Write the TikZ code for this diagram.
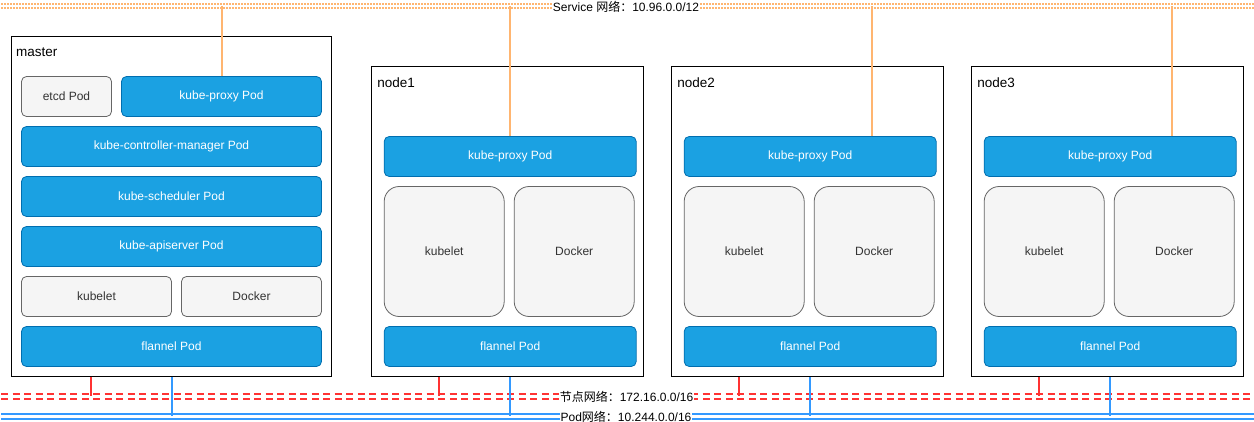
\documentclass[tikz,border=0pt]{standalone}
\usepackage{fontspec}
\setmainfont{Liberation Sans}
\newfontfamily\cjk{Noto Sans CJK SC}
\usepackage{tikz}
\usetikzlibrary{positioning}
\definecolor{podfill}{HTML}{1BA1E2}
\definecolor{poddraw}{HTML}{006EAF}
\definecolor{procfill}{HTML}{F5F5F5}
\definecolor{procdraw}{HTML}{666666}
\definecolor{proctext}{HTML}{333333}
\definecolor{svcorange}{HTML}{FFB570}
\definecolor{nodered}{HTML}{FF3333}
\definecolor{podnetblue}{HTML}{3399FF}
\tikzset{
  host/.style={draw=black,line width=1pt,fill=white,anchor=north west,inner sep=0,outer sep=0},
  host label/.style={anchor=west,inner sep=0,font=\fontsize{13.5pt}{16pt}\selectfont},
  pod/.style={draw=poddraw,fill=podfill,text=white,rounded corners=5pt,minimum height=40pt,
    inner sep=0,outer sep=0,line width=0.8pt,font=\fontsize{12pt}{14pt}\selectfont},
  proc/.style={draw=procdraw,fill=procfill,text=proctext,rounded corners=5pt,minimum height=40pt,
    inner sep=0,outer sep=0,line width=0.8pt,font=\fontsize{12pt}{14pt}\selectfont},
  proc big/.style={proc,rounded corners=15pt,minimum width=120pt,minimum height=130pt},
  svc link/.style={svcorange,line width=1.6pt,double=white,double distance=2.9pt,dash pattern=on 2pt off 1pt},
  node link/.style={nodered,line width=1.9pt,double=white,double distance=3.1pt,dash pattern=on 7pt off 4.5pt},
  pod link/.style={podnetblue,line width=1.9pt,double=white,double distance=3.1pt},
  svc drop/.style={svcorange,line width=2pt},
  node drop/.style={nodered,line width=2pt},
  pod drop/.style={podnetblue,line width=2pt},
  net label/.style={fill=white,inner xsep=1pt,inner ysep=1pt,font=\fontsize{12pt}{14pt}\selectfont}
}

\begin{document}
\begin{tikzpicture}[x=1pt,y=-1pt]
  \useasboundingbox (0,0) rectangle (1254,422);

  % master
  \node[host,minimum width=320pt,minimum height=340pt] (master) at (11.5,36.5) {};
  \node[host label] (master-lbl) at ([shift={(4.5,16)}]master.north west) {master};

  \node[proc,minimum width=90pt,anchor=north west] (m-etcd) at ([shift={(10,40)}]master.north west) {etcd Pod};
  \node[pod,minimum width=200pt,right=10pt of m-etcd] (m-proxy) {kube-proxy Pod};
  \node[pod,minimum width=300pt,below=10pt of m-etcd.south west,anchor=north west] (m-cm) {kube-controller-manager Pod};
  \node[pod,minimum width=300pt,below=10pt of m-cm] (m-sched) {kube-scheduler Pod};
  \node[pod,minimum width=300pt,below=10pt of m-sched] (m-api) {kube-apiserver Pod};
  \node[proc,minimum width=150pt,below=10pt of m-api.south west,anchor=north west] (m-kubelet) {kubelet};
  \node[proc,minimum width=140pt,right=10pt of m-kubelet] (m-docker) {Docker};
  \node[pod,minimum width=300pt,below=10pt of m-kubelet.south west,anchor=north west] (m-flannel) {flannel Pod};

  % workers
  \foreach \i [evaluate=\i as \xx using 71.7+300*\i] in {1,2,3} {
    \node[host,minimum width=272pt,minimum height=310pt] (node\i) at (\xx,66.5) {};
    \node[host label] (node\i-lbl) at ([shift={(5.5,16)}]node\i.north west) {node\i};
    \node[pod,minimum width=252pt,anchor=north west] (n\i-proxy) at ([shift={(12.5,70)}]node\i.north west) {kube-proxy Pod};
    \node[proc big,below=10pt of n\i-proxy.south west,anchor=north west] (n\i-kubelet) {kubelet};
    \node[proc big,right=10pt of n\i-kubelet] (n\i-docker) {Docker};
    \node[pod,minimum width=252pt,below=10pt of n\i-kubelet.south west,anchor=north west] (n\i-flannel) {flannel Pod};
  }

  % networks
  \coordinate (svc-w) at (1,6);
  \coordinate (svc-e) at (1254,6);
  \coordinate (nodenet-w) at (1,396.2);
  \coordinate (nodenet-e) at (1254,396.2);
  \coordinate (podnet-w) at (1,416.2);
  \coordinate (podnet-e) at (1254,416.2);

  \draw[svc link] (svc-w) -- (svc-e);
  \draw[node link] (nodenet-w) -- (nodenet-e);
  \draw[pod link] (podnet-w) -- (podnet-e);

  \draw[svc drop] (m-proxy.north) -- (m-proxy.north |- svc-w);
  \draw[node drop] ([xshift=79.5pt]master.south west) coordinate (m-nic) -- (m-nic |- nodenet-w);
  \draw[pod drop] (m-flannel.south |- master.south) -- (m-flannel.south |- podnet-w);
  \foreach \i [evaluate=\i as \dx using (\i>1)*62] in {1,2,3} {
    \draw[svc drop] ([xshift=\dx pt]n\i-proxy.north) coordinate (n\i-up) -- (n\i-up |- svc-w);
    \draw[node drop] ([xshift=67.3pt]node\i.south west) coordinate (n\i-nic) -- (n\i-nic |- nodenet-w);
    \draw[pod drop] (n\i-flannel.south |- node\i.south) -- (n\i-flannel.south |- podnet-w);
  }

  \node[net label] (svc-lbl) at (626,6.5) {Service {\cjk 网络：}10.96.0.0/12};
  \node[net label] (nodenet-lbl) at (626.5,396.5) {{\cjk 节点网络：}172.16.0.0/16};
  \node[net label] (podnet-lbl) at (626,416.5) {Pod{\cjk 网络：}10.244.0.0/16};
\end{tikzpicture}
\end{document}
